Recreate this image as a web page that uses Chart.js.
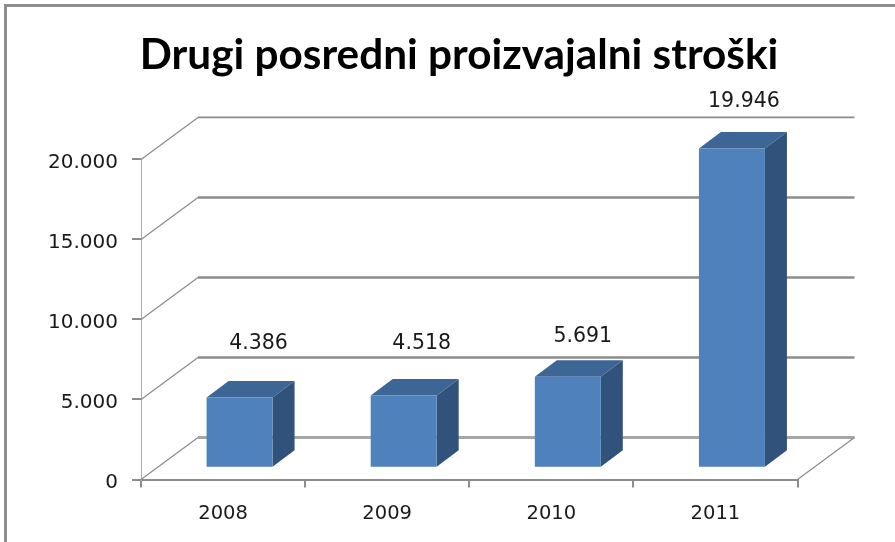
<!DOCTYPE html>
<html>
<head>
<meta charset="utf-8">
<style>html,body{margin:0;padding:0;background:#fff}canvas{display:block}</style>
<script src="https://cdn.jsdelivr.net/npm/chart.js@4"></script>
</head>
<body>
<canvas id="c" width="895" height="542"></canvas>
<script>
const categories = ["2008", "2009", "2010", "2011"];
const values = [4386, 4518, 5691, 19946];
const yTicks = [0, 5000, 10000, 15000, 20000];
const titleText = "Drugi posredni proizvajalni stroški";

const labelNudgeX = [8, 7, 4, 1];
const labelLift = [66, 64, 52, 59];

const fmt = v => String(v).replace(/\B(?=(\d{3})+$)/g, ".");
const WALL = {dx: 57, dy: -42};
const BAR_SHIFT = {dx: 16.5, dy: -11.7};
const BAR_DEPTH = {dx: 22, dy: -16.5};
const GRID = "#8c8c8c";
const TEXT_FONT = "DejaVu Sans";

const scene = {
  id: "scene",
  afterLayout(chart) {
    chart.titleBlock.left = 23;
    chart.titleBlock.right = 895;
  },
  beforeDraw(chart) {
    const {ctx} = chart;
    ctx.save();
    ctx.fillStyle = "#8e8e8e";
    ctx.fillRect(4, 4, 891, 3);
    ctx.fillRect(4, 4, 3, 538);
    ctx.restore();
  },
  beforeDatasetsDraw(chart) {
    const {ctx, scales: {x, y}} = chart;
    const L = x.left, R = x.right;
    ctx.save();
    ctx.strokeStyle = GRID;
    yTicks.forEach(t => {
      const p = y.getPixelForValue(t);
      ctx.lineWidth = 1.3;
      ctx.beginPath();
      ctx.moveTo(L, p);
      ctx.lineTo(L + WALL.dx, p + WALL.dy);
      ctx.stroke();
      ctx.lineWidth = t === 20000 ? 1.7 : (t === 0 ? 2.8 : 2.4);
      ctx.strokeStyle = t === 0 ? "#a6a6a6" : GRID;
      ctx.beginPath();
      ctx.moveTo(L + WALL.dx, p + WALL.dy);
      ctx.lineTo(R + WALL.dx, p + WALL.dy);
      ctx.stroke();
      ctx.strokeStyle = GRID;
    });
    const p0 = y.getPixelForValue(0);
    ctx.lineWidth = 1.3;
    ctx.beginPath();
    ctx.moveTo(R, p0);
    ctx.lineTo(R + WALL.dx, p0 + WALL.dy);
    ctx.stroke();
    ctx.restore();
  },
  beforeDatasetDraw(chart) {
    const {ctx} = chart;
    ctx.save();
    ctx.translate(BAR_SHIFT.dx, BAR_SHIFT.dy);
    chart.getDatasetMeta(0).data.forEach(bar => {
      const l = bar.x - bar.width / 2, r = bar.x + bar.width / 2;
      const t = bar.y, b = bar.base;
      const d = BAR_DEPTH;
      ctx.fillStyle = "#3d6595";
      ctx.beginPath();
      ctx.moveTo(l, t);
      ctx.lineTo(l + d.dx, t + d.dy);
      ctx.lineTo(r + d.dx, t + d.dy);
      ctx.lineTo(r, t);
      ctx.closePath();
      ctx.fill();
      ctx.fillStyle = "#31527b";
      ctx.beginPath();
      ctx.moveTo(r, t);
      ctx.lineTo(r + d.dx, t + d.dy);
      ctx.lineTo(r + d.dx, b + d.dy);
      ctx.lineTo(r, b);
      ctx.closePath();
      ctx.fill();
    });
  },
  afterDatasetDraw(chart) {
    const {ctx} = chart;
    ctx.restore();
    ctx.save();
    ctx.font = "20.5px '" + TEXT_FONT + "'";
    ctx.fillStyle = "#1a1a1a";
    ctx.textAlign = "center";
    ctx.textBaseline = "middle";
    chart.getDatasetMeta(0).data.forEach((bar, i) => {
      ctx.fillText(fmt(values[i]),
        bar.x + BAR_SHIFT.dx + BAR_DEPTH.dx / 2 + labelNudgeX[i],
        bar.y - labelLift[i]);
    });
    ctx.restore();
  }
};

new Chart(document.getElementById("c"), {
  type: "bar",
  data: {
    labels: categories,
    datasets: [{
      data: values,
      backgroundColor: "#4f81bd",
      borderWidth: 0,
      categoryPercentage: 1,
      barPercentage: 0.402
    }]
  },
  plugins: [scene],
  options: {
    responsive: false,
    animation: false,
    layout: {padding: {left: 0, right: 97.5, top: 0, bottom: 0}},
    plugins: {
      legend: {display: false},
      tooltip: {enabled: false},
      title: {
        display: true,
        text: titleText,
        color: "#000",
        font: {family: "Lato", weight: "bold", size: 42.3, lineHeight: 1.2},
        padding: {top: 30, bottom: 78.7}
      }
    },
    scales: {
      x: {
        afterFit(s) { s.height = 542 - 479.5; },
        border: {color: GRID, width: 2},
        grid: {display: true, drawOnChartArea: false, drawTicks: true, tickLength: 8, color: GRID, lineWidth: 2, offset: true},
        ticks: {color: "#1a1a1a", font: {family: TEXT_FONT, size: 19.5}, padding: 15, maxRotation: 0}
      },
      y: {
        min: 0,
        max: 20000,
        afterFit(s) { s.width = 141; },
        afterBuildTicks(s) { s.ticks = yTicks.map(value => ({value})); },
        border: {color: "#ababab", width: 1},
        grid: {display: true, drawOnChartArea: false, drawTicks: true, tickLength: 9, color: GRID, lineWidth: 2},
        ticks: {color: "#1a1a1a", font: {family: TEXT_FONT, size: 20}, padding: 14, labelOffset: 3, callback: v => fmt(v)}
      }
    }
  }
});
</script>
</body>
</html>
